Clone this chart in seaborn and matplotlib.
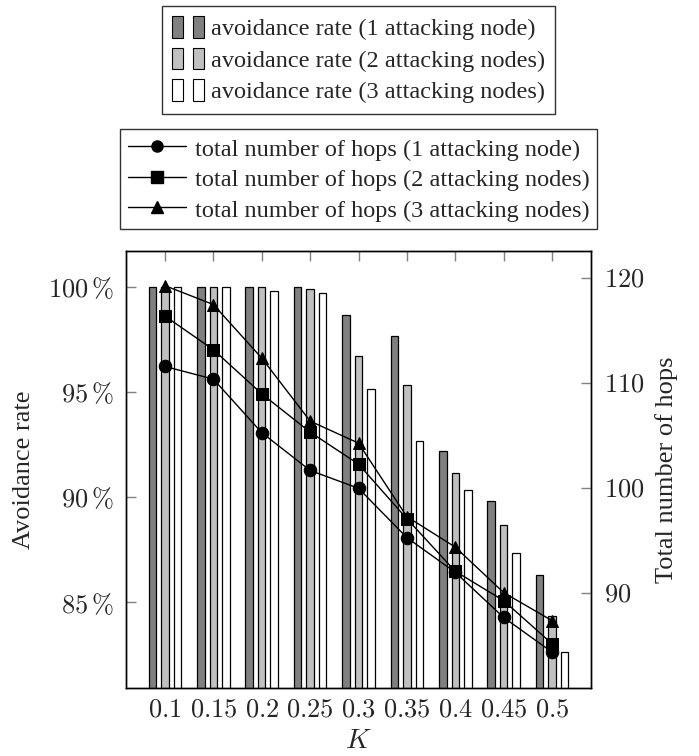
import seaborn as sns
import matplotlib
matplotlib.use('Agg')
import matplotlib.pyplot as plt
from matplotlib.patches import Patch
from matplotlib.lines import Line2D
from matplotlib.legend_handler import HandlerTuple
import numpy as np
import pandas as pd

sns.set_style('white')
plt.rcParams['font.family'] = ['Liberation Serif', 'DejaVu Serif']
plt.rcParams['mathtext.fontset'] = 'cm'

# data
k_labels = ['0.1', '0.15', '0.2', '0.25', '0.3', '0.35', '0.4', '0.45', '0.5']
rate_1 = [100.0, 100.0, 100.0, 100.0, 98.67, 97.67, 92.18, 89.83, 86.32]
rate_2 = [100.0, 100.0, 100.0, 99.9, 96.7, 95.35, 91.16, 88.67, 84.33]
rate_3 = [100.0, 100.0, 99.8, 99.7, 95.16, 92.67, 90.33, 87.33, 82.65]
hops_1 = [111.6, 110.4, 105.3, 101.7, 100.0, 95.3, 92.0, 87.7, 84.4]
hops_2 = [116.4, 113.2, 109.0, 105.35, 102.3, 97.1, 92.1, 89.3, 85.2]
hops_3 = [119.3, 117.5, 112.4, 106.4, 104.3, 97.3, 94.4, 90.07, 87.4]

bar_names = ['avoidance rate (1 attacking node)',
             'avoidance rate (2 attacking nodes)',
             'avoidance rate (3 attacking nodes)']
line_names = ['total number of hops (1 attacking node)',
              'total number of hops (2 attacking nodes)',
              'total number of hops (3 attacking nodes)']
bar_colors = ['#808080', '#c0c0c0', '#ffffff']
markers = ['o', 's', '^']

bars = pd.DataFrame({
    'K': k_labels * 3,
    'rate': rate_1 + rate_2 + rate_3,
    'series': sum([[n] * len(k_labels) for n in bar_names], []),
})
hops = pd.DataFrame({
    'pos': list(range(len(k_labels))) * 3,
    'hops': hops_1 + hops_2 + hops_3,
    'series': sum([[n] * len(k_labels) for n in line_names], []),
})

fig = plt.figure(figsize=(6.99, 7.56), dpi=100)
ax = fig.add_axes([126 / 699, 1 - 688 / 756, 465 / 699, 437 / 756])

sns.barplot(data=bars, x='K', y='rate', hue='series', order=k_labels,
            hue_order=bar_names, palette=bar_colors, width=0.775, gap=0.4,
            edgecolor='black', linewidth=0.9, saturation=1, legend=False, ax=ax)
ax.set_xlim(-0.806, 8.806)
ax.set_ylim(80.93, 101.7)
ax.set_yticks([85, 90, 95, 100])
ax.set_yticklabels([r'$%d\,\%%$' % v for v in [85, 90, 95, 100]])
ax.set_xticks(range(len(k_labels)))
ax.set_xticklabels(['$%s$' % k for k in k_labels])
ax.set_xlabel('$K$', fontsize=20, labelpad=6)
ax.set_ylabel('Avoidance rate', fontsize=19, labelpad=9)
ax.tick_params(axis='both', direction='in', length=7, width=1, color='gray',
               labelsize=19, top=True, bottom=True, left=True, right=False)
ax.tick_params(axis='x', pad=8)
ax.tick_params(axis='y', pad=9)

ax2 = ax.twinx()
sns.lineplot(data=hops, x='pos', y='hops', style='series', style_order=line_names,
             markers=dict(zip(line_names, markers)), dashes=False, color='black',
             linewidth=1, markersize=9, markeredgecolor='black', legend=False, ax=ax2)
ax2.set_ylim(80.98, 122.6)
ax2.set_yticks([90, 100, 110, 120])
ax2.set_yticklabels(['$%d$' % v for v in [90, 100, 110, 120]])
ax2.set_ylabel('Total number of hops', fontsize=19, labelpad=8)
ax2.tick_params(axis='y', direction='in', length=7, width=1, color='gray',
                labelsize=19, left=False, right=True, pad=9)
ax2.set_xlim(-0.806, 8.806)

for a in (ax, ax2):
    for s in a.spines.values():
        s.set_color('black')
        s.set_linewidth(1)

# legends above the axes
bar_handles = [(Patch(facecolor=c, edgecolor='black', linewidth=0.8),
                Patch(facecolor=c, edgecolor='black', linewidth=0.8))
               for c in bar_colors]
leg1 = fig.legend(bar_handles, bar_names, loc='upper center',
                  bbox_to_anchor=(358.5 / 699, 1 - 6 / 756), borderaxespad=0,
                  handler_map={tuple: HandlerTuple(ndivide=None, pad=0.4)},
                  handlelength=1.3, handleheight=1.0, handletextpad=0.3,
                  fontsize=17.5, frameon=True, fancybox=False, edgecolor='#333333',
                  framealpha=1, borderpad=0.42, labelspacing=0.3)
leg1.get_frame().set_linewidth(1)

line_handles = [Line2D([], [], color='black', linewidth=1, marker=m, markersize=8)
                for m in markers]
leg2 = fig.legend(line_handles, line_names, loc='upper center',
                  bbox_to_anchor=(358.5 / 699, 1 - 129 / 756), borderaxespad=0,
                  handlelength=2.4, handleheight=1.0, handletextpad=0.35, numpoints=1,
                  fontsize=17.5, frameon=True, fancybox=False, edgecolor='#333333',
                  framealpha=1, borderpad=0.32, labelspacing=0.25)
leg2.get_frame().set_linewidth(1)

plt.savefig('out.png', dpi=100)
